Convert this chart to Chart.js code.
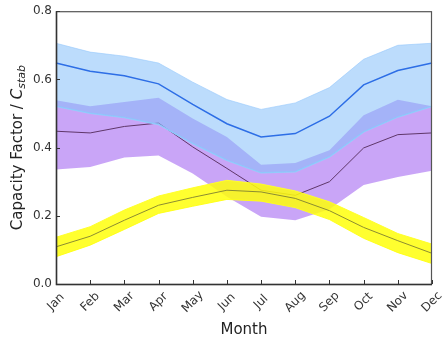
<!DOCTYPE html>
<html>
<head>
<meta charset="utf-8">
<script src="https://cdn.jsdelivr.net/npm/chart.js@4"></script>
<style>
html, body { margin: 0; padding: 0; background: #fff; }
#wrap { width: 442px; height: 340px; }
</style>
</head>
<body>
<div id="wrap"><canvas id="myChart"></canvas></div>
<script>
const months = ['Jan', 'Feb', 'Mar', 'Apr', 'May', 'Jun', 'Jul', 'Aug', 'Sep', 'Oct', 'Nov', 'Dec'];
const yTicks = [0.0, 0.2, 0.4, 0.6, 0.8];

const blueMean  = [0.648, 0.624, 0.611, 0.587, 0.527, 0.470, 0.431, 0.441, 0.492, 0.584, 0.626, 0.648];
const blueHigh  = [0.706, 0.680, 0.668, 0.648, 0.592, 0.541, 0.512, 0.531, 0.576, 0.659, 0.700, 0.706];
const blueLow   = [0.521, 0.501, 0.488, 0.468, 0.412, 0.363, 0.326, 0.329, 0.373, 0.446, 0.490, 0.521];

const purpleMean = [0.448, 0.443, 0.462, 0.472, 0.402, 0.339, 0.275, 0.260, 0.300, 0.399, 0.438, 0.443];
const purpleHigh = [0.539, 0.521, 0.534, 0.546, 0.485, 0.431, 0.350, 0.355, 0.392, 0.495, 0.540, 0.521];
const purpleLow  = [0.336, 0.343, 0.371, 0.377, 0.324, 0.256, 0.197, 0.187, 0.219, 0.290, 0.314, 0.332];

const yellowMean = [0.109, 0.140, 0.187, 0.231, 0.254, 0.275, 0.270, 0.251, 0.215, 0.166, 0.127, 0.090];
const yellowHigh = [0.137, 0.168, 0.217, 0.258, 0.282, 0.304, 0.293, 0.273, 0.241, 0.195, 0.148, 0.117];
const yellowLow  = [0.080, 0.114, 0.160, 0.207, 0.228, 0.248, 0.243, 0.224, 0.189, 0.134, 0.092, 0.060];

const FONT = '"DejaVu Sans", sans-serif';

// frame, inward ticks, rotated month labels and axis titles
const axisExtras = {
    id: 'axisExtras',
    afterDraw(chart) {
        const { ctx, chartArea: a, scales: { x, y } } = chart;
        ctx.save();
        ctx.strokeStyle = '#555';
        ctx.lineWidth = 1.2;
        ctx.strokeRect(a.left + 0.5, a.top + 0.5, a.right - a.left - 1, a.bottom - a.top);
        ctx.strokeStyle = '#333';
        ctx.lineWidth = 1.5;
        ctx.beginPath();
        ctx.moveTo(a.left + 0.5, a.top);
        ctx.lineTo(a.left + 0.5, a.bottom + 0.5);
        ctx.lineTo(a.right, a.bottom + 0.5);
        ctx.stroke();

        ctx.lineWidth = 1;
        ctx.beginPath();
        months.forEach((m, i) => {
            const px = Math.round(x.getPixelForValue(i)) + 0.5;
            ctx.moveTo(px, a.bottom);
            ctx.lineTo(px, a.bottom - 4);
        });
        yTicks.forEach(v => {
            const py = Math.round(y.getPixelForValue(v)) + 0.5;
            ctx.moveTo(a.left, py);
            ctx.lineTo(a.left + 4, py);
        });
        ctx.stroke();

        ctx.fillStyle = '#333';
        ctx.font = '12px ' + FONT;
        ctx.textAlign = 'center';
        ctx.textBaseline = 'middle';
        months.forEach((m, i) => {
            ctx.save();
            ctx.translate(x.getPixelForValue(i), a.bottom + 18);
            ctx.rotate(-Math.PI / 4);
            ctx.fillText(m, 0, 0);
            ctx.restore();
        });

        ctx.fillStyle = '#222';
        ctx.font = '15px ' + FONT;
        ctx.fillText('Month', (a.left + a.right) / 2, 330);

        // y title with italic C and subscript "stab"
        const main = 'Capacity Factor / ';
        ctx.font = '15px ' + FONT;
        const w1 = ctx.measureText(main).width;
        ctx.font = 'italic 15px ' + FONT;
        const w2 = ctx.measureText('C').width;
        ctx.font = 'italic 11px ' + FONT;
        const w3 = ctx.measureText('stab').width;
        const start = -(w1 + w2 + w3) / 2;
        ctx.translate(18, (a.top + a.bottom) / 2);
        ctx.rotate(-Math.PI / 2);
        ctx.textAlign = 'left';
        ctx.font = '15px ' + FONT;
        ctx.fillText(main, start, 0);
        ctx.font = 'italic 15px ' + FONT;
        ctx.fillText('C', start + w1, 0);
        ctx.font = 'italic 11px ' + FONT;
        ctx.fillText('stab', start + w1 + w2, 4);
        ctx.restore();
    }
};

function band(data, fill, bg, border, width) {
    return {
        data: data,
        fill: fill,
        backgroundColor: bg,
        borderColor: border,
        borderWidth: width,
        pointRadius: 0,
        tension: 0
    };
}

const ctx = document.getElementById('myChart');

new Chart(ctx, {
    type: 'line',
    data: {
        labels: months,
        datasets: [
            // purple group
            Object.assign(band(purpleLow, false, 'transparent', 'rgba(0,0,0,0)', 0), { order: 9 }),
            Object.assign(band(purpleHigh, '-1', 'rgba(194, 152, 246, 0.88)', 'rgba(0,0,0,0)', 0), { order: 8 }),
            Object.assign(band(purpleMean, false, 'transparent', 'rgb(95, 55, 105)', 1), { order: 7 }),
            // blue group
            Object.assign(band(blueLow, false, 'transparent', 'rgb(150, 205, 252)', 1.5), { order: 6 }),
            Object.assign(band(blueHigh, '-1', 'rgba(133, 191, 250, 0.55)', 'rgba(150, 200, 252, 0.6)', 1), { order: 5 }),
            Object.assign(band(blueMean, false, 'transparent', 'rgb(45, 110, 230)', 1.5), { order: 4 }),
            // yellow group
            Object.assign(band(yellowLow, false, 'transparent', 'rgba(255, 255, 40, 0.95)', 1), { order: 3 }),
            Object.assign(band(yellowHigh, '-1', 'rgba(255, 255, 10, 0.85)', 'rgba(255, 255, 40, 0.95)', 1), { order: 2 }),
            Object.assign(band(yellowMean, false, 'transparent', 'rgb(140, 140, 50)', 1), { order: 1 })
        ]
    },
    options: {
        responsive: true,
        maintainAspectRatio: false,
        animation: false,
        layout: { padding: { top: 10, right: 10, left: 0, bottom: 0 } },
        plugins: {
            legend: { display: false },
            tooltip: { enabled: false }
        },
        scales: {
            x: {
                offset: false,
                grid: { display: false, drawTicks: false },
                border: { display: false },
                ticks: { display: false },
                afterFit(scale) { scale.height = 56; }
            },
            y: {
                min: 0,
                max: 0.8,
                grid: { display: false, drawTicks: false },
                border: { display: false },
                afterBuildTicks(scale) { scale.ticks = yTicks.map(v => ({ value: v })); },
                ticks: {
                    padding: 4,
                    color: '#333',
                    font: { family: 'DejaVu Sans', size: 12 },
                    callback: v => v.toFixed(1)
                },
                afterFit(scale) { scale.width = 56; }
            }
        }
    },
    plugins: [axisExtras]
});
</script>
</body>
</html>
